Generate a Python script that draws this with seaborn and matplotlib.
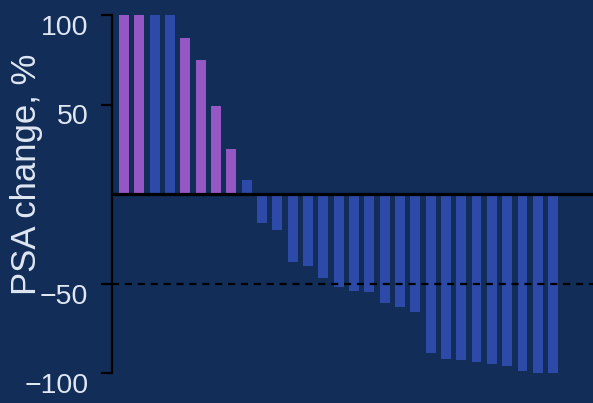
import matplotlib
matplotlib.use("Agg")
import matplotlib.pyplot as plt
import seaborn as sns
import pandas as pd

# PSA change from baseline per patient, sorted high to low (%)
psa_change = [100, 100, 100, 100, 87, 75, 49, 25, 8,
              -16, -20, -38, -40, -47, -52, -54, -55, -61, -63, -66,
              -89, -92, -93, -94, -95, -96, -99, -100, -100]
cohort = ["A", "A", "B", "B", "A", "A", "A", "A", "B"] + ["B"] * 20
patients = [f"P{i + 1:02d}" for i in range(len(psa_change))]
y_ticks = [-100, -50, 50, 100]
y_tick_labels = ["\u2212100", "\u221250", "50", "100"]

BG = "#122d58"
TEXT = "#dfe7f3"
palette = {"A": "#9457c4", "B": "#2d4aa8"}

df = pd.DataFrame({"patient": patients, "psa": psa_change, "cohort": cohort})

sns.set_theme(style="white")
plt.rcParams["font.family"] = ["Liberation Sans", "DejaVu Sans"]

fig = plt.figure(figsize=(5.93, 4.03), dpi=100, facecolor=BG)
ax = fig.add_axes([112 / 593, 30 / 403, 481 / 593, 358 / 403])
ax.set_facecolor(BG)

sns.barplot(data=df, x="patient", y="psa", hue="cohort", palette=palette,
            order=patients, dodge=False, width=0.65, saturation=1,
            linewidth=0, edgecolor="none",
            legend=False, ax=ax, zorder=2)

ax.axhline(0, color="black", lw=2.3, zorder=4)
ax.axhline(-50, color="black", lw=1.6, ls=(0, (3.2, 2.6)), zorder=3)

ax.set_xlim(-0.78, 30.6)
ax.set_ylim(-100, 100)
ax.set_xticks([])
ax.set_xlabel("")

for side in ("top", "right", "bottom"):
    ax.spines[side].set_visible(False)
ax.spines["left"].set_color("black")
ax.spines["left"].set_linewidth(1.6)

ax.set_yticks(y_ticks)
ax.set_yticklabels(y_tick_labels)
ax.tick_params(axis="y", direction="out", length=8, width=1.6, color="black",
               pad=9, labelsize=20.5, labelcolor=TEXT, left=True)
for lab in ax.get_yticklabels():
    lab.set_va("top")

ax.set_ylabel("PSA change, %", fontsize=25, color=TEXT)
ax.yaxis.label.set_va("center")
ax.yaxis.set_label_coords(-0.177, 0.555)

fig.savefig("out.png", dpi=100, facecolor=BG)
